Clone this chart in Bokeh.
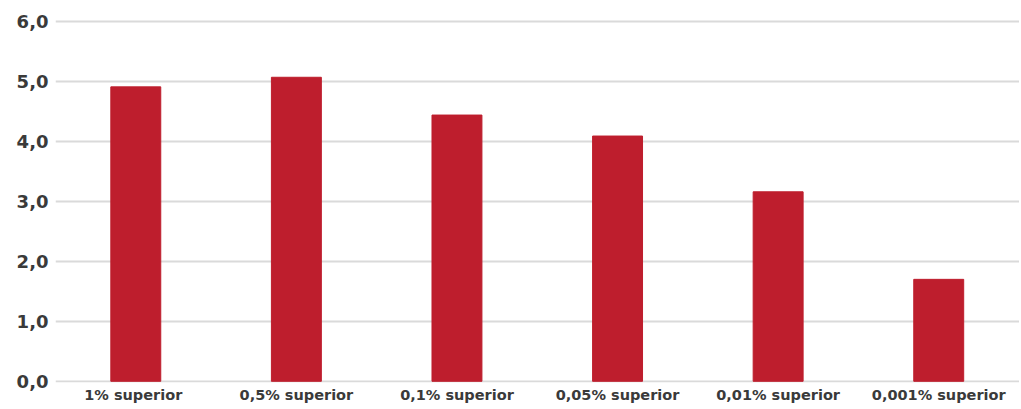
import numpy as np
from bokeh.plotting import figure
from bokeh.models import Range1d, FixedTicker
from bokeh.embed import file_html
from bokeh.resources import INLINE

categories = ["1%  superior", "0,5% superior", "0,1% superior",
              "0,05% superior", "0,01% superior", "0,001% superior"]
values = [4.91, 5.07, 4.44, 4.09, 3.16, 1.70]
y_ticks = [0, 1, 2, 3, 4, 5, 6]
y_tick_labels = ["0,0", "1,0", "2,0", "3,0", "4,0", "5,0", "6,0"]

BAR = "#BE1E2D"
TXT = "#3a3a3a"

x = np.arange(len(categories))

p = figure(frame_width=964, frame_height=364, output_backend="svg", toolbar_location=None,
           x_range=Range1d(-0.5, 5.503), y_range=Range1d(-0.02, 6.05),
           min_border_left=55, min_border_right=0, min_border_top=18, min_border_bottom=22)
p.outline_line_color = None
p.background_fill_color = "white"
p.border_fill_color = "white"

p.vbar(x=x, top=values, width=0.311, bottom=0, color=BAR)

p.xgrid.grid_line_color = None
p.ygrid.grid_line_color = "#dadada"
p.ygrid.grid_line_width = 2
p.ygrid.ticker = FixedTicker(ticks=y_ticks)

p.yaxis.ticker = FixedTicker(ticks=y_ticks)
p.yaxis.major_label_overrides = {int(t): l for t, l in zip(y_ticks, y_tick_labels)}
p.yaxis.axis_line_color = None
p.yaxis.major_tick_line_color = None
p.yaxis.minor_tick_line_color = None
p.yaxis.major_tick_out = 0
p.yaxis.major_label_text_font = "DejaVu Sans"
p.yaxis.major_label_text_font_style = "bold"
p.yaxis.major_label_text_font_size = "18px"
p.yaxis.major_label_text_color = TXT
p.yaxis.major_label_standoff = 7

p.xaxis.ticker = FixedTicker(ticks=list(x))
p.xaxis.major_label_overrides = {int(i): c for i, c in zip(x, categories)}
p.xaxis.axis_line_color = None
p.xaxis.major_tick_line_color = None
p.xaxis.minor_tick_line_color = None
p.xaxis.major_tick_out = 0
p.xaxis.major_label_text_font = "DejaVu Sans"
p.xaxis.major_label_text_font_style = "bold"
p.xaxis.major_label_text_font_size = "14.5px"
p.xaxis.major_label_text_color = TXT
p.xaxis.major_label_standoff = 4

open("out.html", "w").write(file_html(p, INLINE))
